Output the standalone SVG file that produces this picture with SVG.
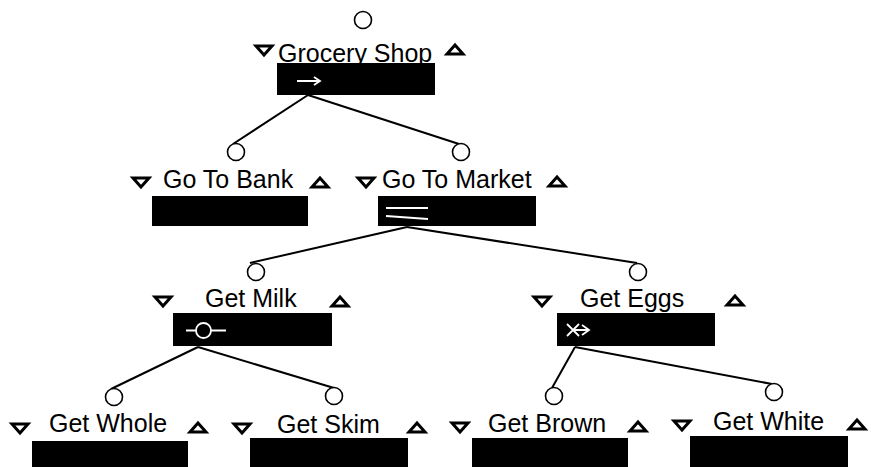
<svg xmlns="http://www.w3.org/2000/svg" width="871" height="467" viewBox="0 0 871 467">
<style>
.lbl{font-family:"Liberation Sans",Arial,sans-serif;font-size:25px;fill:#000}
.port{fill:#fff;stroke:#000;stroke-width:1.6}
.tri{fill:#fff;stroke:#000;stroke-width:3;stroke-linejoin:miter}
.box{fill:#000}
.sym{fill:none;stroke:#fff;stroke-width:1.8}
.edge{fill:none;stroke:#000;stroke-width:2}
</style>
<defs>
<path id="dn" d="M-8,-4 L8,-4 L0,5 Z"/>
<path id="up" d="M-8,4 L8,4 L0,-5 Z"/>
</defs>
<g id="connectors">
<line class="edge" x1="308" y1="95" x2="233" y2="144"/>
<line class="edge" x1="308" y1="95" x2="459" y2="144"/>
<line class="edge" x1="407" y1="227" x2="250" y2="263"/>
<line class="edge" x1="407" y1="227" x2="637" y2="263"/>
<line class="edge" x1="198" y1="347" x2="111" y2="389"/>
<line class="edge" x1="198" y1="347" x2="334" y2="388"/>
<line class="edge" x1="575" y1="347" x2="552" y2="388"/>
<line class="edge" x1="575" y1="347" x2="772" y2="384"/>
</g>
<g id="grocery-shop">
<circle class="port" cx="363" cy="20" r="8.5"/>
<use href="#dn" class="tri" x="264" y="50"/>
<text class="lbl" x="278" y="62">Grocery Shop</text>
<use href="#up" class="tri" x="455" y="50"/>
<rect class="box" x="277" y="63" width="158" height="32"/>
<path class="sym" d="M297,81 H320 M314,77 L320,81 L314,85"/>
</g>
<g id="go-to-bank">
<circle class="port" cx="236" cy="152" r="8.5"/>
<use href="#dn" class="tri" x="141" y="182"/>
<text class="lbl" x="163" y="188">Go To Bank</text>
<use href="#up" class="tri" x="320" y="183"/>
<rect class="box" x="152" y="196" width="156" height="30"/>
</g>
<g id="go-to-market">
<circle class="port" cx="461" cy="152" r="8.5"/>
<use href="#dn" class="tri" x="366" y="182"/>
<text class="lbl" x="382" y="188">Go To Market</text>
<use href="#up" class="tri" x="557" y="182"/>
<rect class="box" x="378" y="196" width="158" height="30"/>
<path class="sym" d="M386,208 H428 M386,216 L428,219"/>
</g>
<g id="get-milk">
<circle class="port" cx="256" cy="272" r="8.5"/>
<use href="#dn" class="tri" x="163" y="301"/>
<text class="lbl" x="205" y="307">Get Milk</text>
<use href="#up" class="tri" x="340" y="302"/>
<rect class="box" x="173" y="313" width="159" height="33"/>
<circle class="sym" cx="203.5" cy="330.5" r="7.5"/>
<path class="sym" d="M186,330.5 H196 M211,330.5 H226"/>
</g>
<g id="get-eggs">
<circle class="port" cx="638" cy="272" r="8.5"/>
<use href="#dn" class="tri" x="542" y="301"/>
<text class="lbl" x="580" y="307">Get Eggs</text>
<use href="#up" class="tri" x="735" y="301"/>
<rect class="box" x="557" y="313" width="158" height="33"/>
<path class="sym" d="M567,324 L579,336 M567,336 L579,324 M573,330 H589 M582,325 L589,330 L582,335"/>
</g>
<g id="get-whole">
<circle class="port" cx="114" cy="397" r="8.5"/>
<use href="#dn" class="tri" x="20" y="428"/>
<text class="lbl" x="49" y="432">Get Whole</text>
<use href="#up" class="tri" x="198" y="428"/>
<rect class="box" x="32" y="441" width="156" height="30"/>
</g>
<g id="get-skim">
<circle class="port" cx="334" cy="396" r="8.5"/>
<use href="#dn" class="tri" x="242" y="428"/>
<text class="lbl" x="277" y="433">Get Skim</text>
<use href="#up" class="tri" x="417" y="428"/>
<rect class="box" x="250" y="438" width="158" height="33"/>
</g>
<g id="get-brown">
<circle class="port" cx="554" cy="396" r="8.5"/>
<use href="#dn" class="tri" x="460" y="427"/>
<text class="lbl" x="488" y="432">Get Brown</text>
<use href="#up" class="tri" x="638" y="427"/>
<rect class="box" x="472" y="438" width="156" height="33"/>
</g>
<g id="get-white">
<circle class="port" cx="774" cy="392" r="8.5"/>
<use href="#dn" class="tri" x="682" y="425"/>
<text class="lbl" x="713" y="430">Get White</text>
<use href="#up" class="tri" x="857" y="425"/>
<rect class="box" x="690" y="436" width="158" height="35"/>
</g>
</svg>
